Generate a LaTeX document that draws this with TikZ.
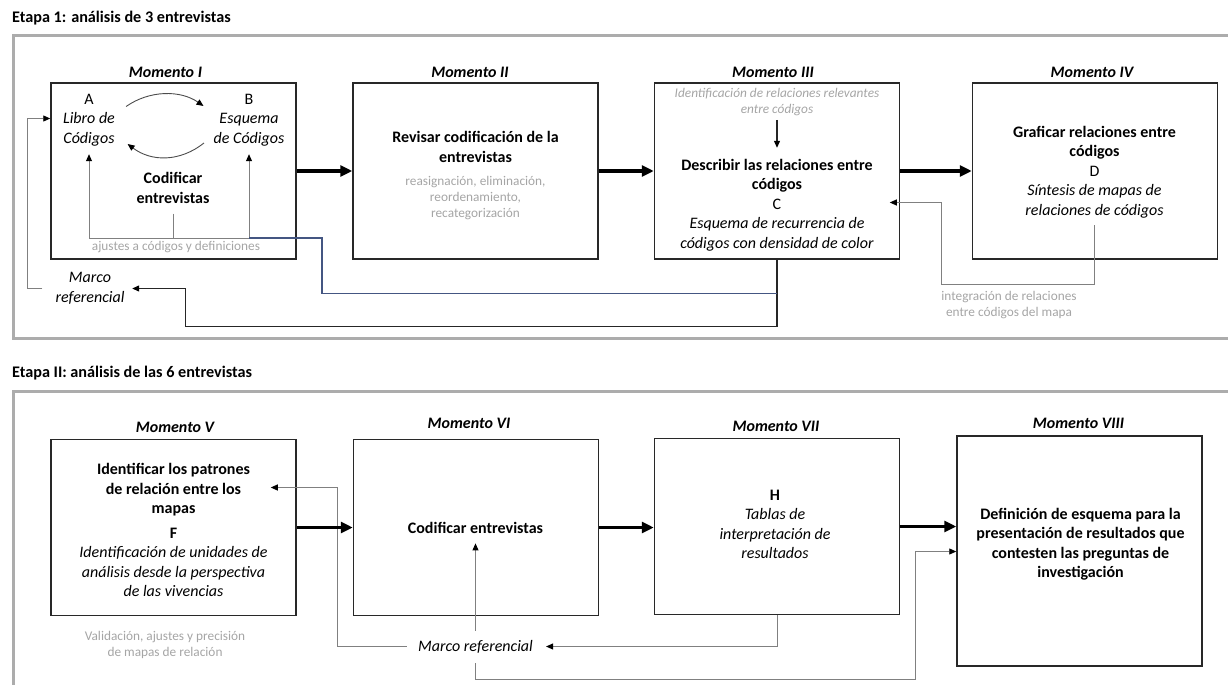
\documentclass[tikz,border=0pt]{standalone}
\usepackage{fontspec}
\setmainfont{Carlito}
\usetikzlibrary{arrows.meta,calc}
\definecolor{framegray}{RGB}{172,172,172}
\definecolor{txtgray}{RGB}{165,165,165}
\definecolor{lngray}{RGB}{128,128,128}
\definecolor{boxc}{RGB}{40,40,40}
\definecolor{linkblue}{RGB}{68,86,130}
\begin{document}
\begin{tikzpicture}[x=1pt,y=-1pt,
  frame/.style={draw=framegray, line width=3pt},
  head/.style={font=\fontsize{16.2}{19}\selectfont\bfseries, inner sep=0, anchor=west},
  box/.style={draw=boxc, line width=1.5pt, minimum width=245pt, minimum height=176pt, inner sep=0},
  mom/.style={font=\fontsize{16}{19.5}\selectfont\bfseries\itshape, inner sep=0},
  txt/.style={font=\fontsize{16}{19.5}\selectfont, align=center, inner sep=0},
  btxt/.style={font=\fontsize{16}{19.5}\selectfont\bfseries, align=center, inner sep=0},
  itxt/.style={font=\fontsize{16}{19.5}\selectfont\itshape, align=center, inner sep=0},
  gtxt/.style={font=\fontsize{13.3}{16}\selectfont, text=txtgray, align=center, inner sep=0},
  gitxt/.style={gtxt, font=\fontsize{13.3}{16}\selectfont\itshape},
  big/.style={line width=3.5pt, -{Triangle[length=12pt,width=11pt]}},
  gline/.style={draw=lngray, line width=0.9pt},
  garrow/.style={gline, -{Triangle[length=7pt,width=6pt,color=black]}},
  arcarrow/.style={draw=black!70, line width=0.9pt, -{Triangle[length=7pt,width=6pt,color=black]}},
  barrow/.style={draw=black!85, line width=1.1pt, -{Triangle[length=7pt,width=6pt,color=black]}},
  bluelink/.style={draw=linkblue, line width=1.1pt}]
\useasboundingbox (0,0) rectangle (1228,685);

% stage frames and headings
\draw[frame] (1228,36) -- (13,36) -- (13,338) -- (1228,338);
\draw[frame] (1228,391) -- (13,391) -- (13,685);
\node[head] (t1) at (12,18) {Etapa 1: análisis de 3 entrevistas};
\node[head] (t2) at (12,373) {Etapa II: análisis de las 6 entrevistas};

% boxes
\node[box] (m1) at (173.5,171) {};
\node[box] (m2) at (475.5,171) {};
\node[box] (m3) at (777,171) {};
\node[box] (m4) at (1095,171) {};
\node[box] (m5) at (173.5,527.5) {};
\node[box] (m6) at (476,527.5) {};
\node[box] (m7) at (777,526.5) {};
\node[box, minimum height=230pt] (m8) at (1079.5,551) {};

% box titles
\node[mom] (h1) at (165.5,72) {Momento I};
\node[mom] (h2) at (470,72.5) {Momento II};
\node[mom] (h3) at (773,72.5) {Momento III};
\node[mom] (h4) at (1092,72.5) {Momento IV};
\node[mom] (h5) at (175,427.5) {Momento V};
\node[mom] (h6) at (469,423.5) {Momento VI};
\node[mom] (h7) at (776,426.5) {Momento VII};
\node[mom] (h8) at (1078.5,423.5) {Momento VIII};

% Momento I
\node[txt] (a) at (89,120) {A\\\textit{Libro de}\\\textit{Códigos}};
\node[txt] (b) at (249,120) {B\\\textit{Esquema}\\\textit{de Códigos}};
\node[btxt] (cod) at (173,188) {Codificar\\entrevistas};
\node[gtxt] (aj) at (176,247.5) {ajustes a códigos y definiciones};
\draw[arcarrow] ($(a.east)+(11,-13.5)$) .. controls +(23.5,-16.5) and +(-23,-16) .. ($(b.west)+(-10,-14)$);
\draw[arcarrow] ($(b.west)+(-9.5,23)$) .. controls +(-24,19) and +(24,18) .. ($(a.east)+(12.5,24)$);
\coordinate (jn) at (b.south |- 0,238);
\draw[gline] ([yshift=-10pt]cod.south) -- (cod.south |- jn);
\draw[garrow] (jn) -| ([yshift=-8pt]a.south);
\draw[garrow] (jn) -- ([yshift=-8pt]b.south);

% Momento II
\node[btxt] (g2) at (475.5,147) {Revisar codificación de la\\entrevistas};
\node[gtxt] (r2) at (475.5,198.5) {reasignación, eliminación,\\reordenamiento,\\recategorización};

% Momento III
\node[gitxt] (id3) at (777,102) {Identificación de relaciones relevantes\\entre códigos};
\node[txt] (g3) at (777,205) {\textbf{Describir las relaciones entre}\\\textbf{códigos}\\C\\\textit{Esquema de recurrencia de}\\\textit{códigos con densidad de color}};
\draw[barrow] ([yshift=-4pt]id3.south) -- ([yshift=11pt]g3.north);

% Momento IV
\node[txt] (g4) at (1094.5,172) {\textbf{Graficar relaciones entre}\\\textbf{códigos}\\D\\\textit{Síntesis de mapas de}\\\textit{relaciones de códigos}};
\node[gtxt] (int) at (1009,305.5) {integración de relaciones\\entre códigos del mapa};
\draw[garrow] ([yshift=-7pt]g4.south) |- ($(m3.east)+(41,113)$) |- ($(m3.east)+(-10.5,31.5)$);

% Marco referencial, stage 1
\node[itxt] (mr1) at (90,288.5) {Marco\\referencial};
\draw[garrow] ([xshift=-13pt]mr1.west) -- ++(-15,0) |- ([yshift=52.5pt]m1.west);
\draw[barrow] (m3.south) |- ($(mr1.east)+(61,38)$) |- ($(mr1.east)+(7.5,0)$);
\draw[bluelink] ($(m3.south)+(0,33.5)$) -| ($(jn)+(73,0)$) -- (jn);

% stage 1 main flow
\draw[big] (m1) -- (m2);
\draw[big] (m2) -- (m3);
\draw[big] (m3) -- (m4);

% Momento V
\node[txt] (g5) at (173.5,530) {\textbf{Identificar los patrones}\\\textbf{de relación entre los}\\\textbf{mapas}\\[5pt]\textbf{F}\\\textit{Identificación de unidades de}\\\textit{análisis desde la perspectiva}\\\textit{de las vivencias}};
\node[gtxt] (val) at (165,645) {Validación, ajustes y precisión\\de mapas de relación};

% Momento VI
\node[btxt] (g6) at (475.5,527.5) {Codificar entrevistas};

% Momento VII
\node[txt] (g7) at (775,524.5) {\textbf{H}\\\textit{Tablas de}\\\textit{interpretación de}\\\textit{resultados}};

% Momento VIII
\node[btxt] (g8) at (1080.5,544) {Definición de esquema para la\\presentación de resultados que\\contesten las preguntas de\\investigación};

% Marco referencial, stage 2
\node[itxt] (mr2) at (475.5,646.5) {Marco referencial};
\draw[garrow] ([xshift=-11pt]mr2.west) -| ($(m6.west)+(-15,-40)$) -- ($(m5.east)+(-26,-40)$);
\draw[garrow] ([yshift=9pt]mr2.north) -- ([yshift=-10pt]g6.south);
\draw[garrow] (m7.south) |- ([xshift=13pt]mr2.east);
\draw[garrow] ([yshift=-10pt]mr2.south) |- ($(m8.west)+(-41,128.5)$) |- ($(m8.west)+(0,0.5)$);

% stage 2 main flow
\draw[big] (m5) -- (m6);
\draw[big] (m6.east) -- (m6.east -| m7.west);
\draw[big] (m7.east) -- (m7.east -| m8.west);
\end{tikzpicture}
\end{document}
